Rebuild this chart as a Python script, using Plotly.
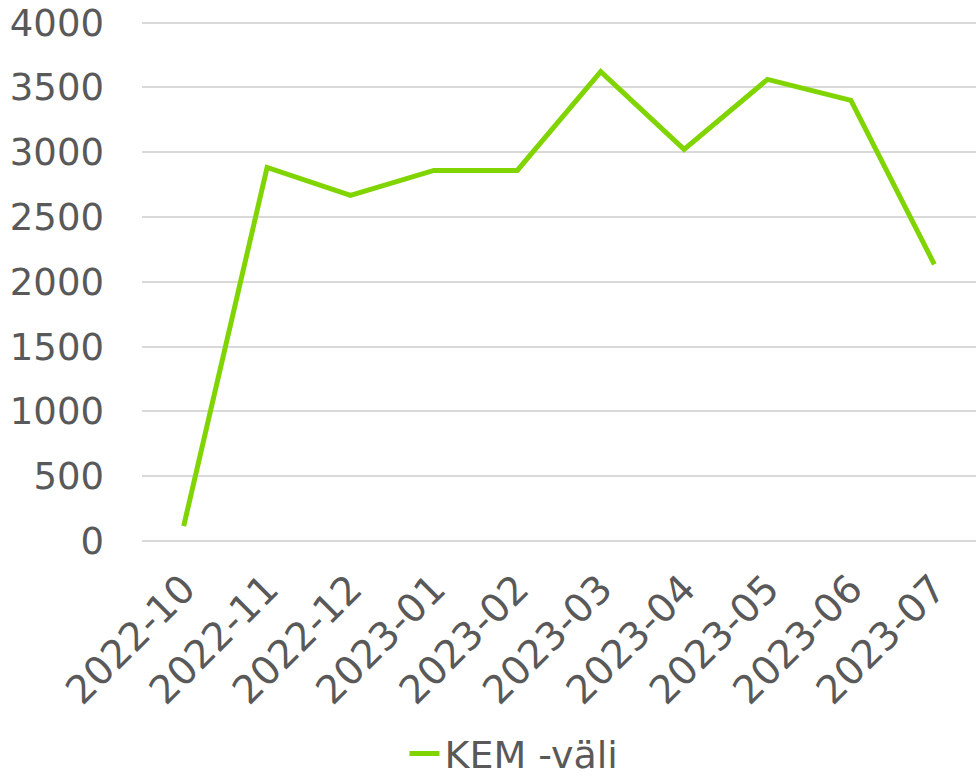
import plotly.graph_objects as go

months = ["2022-10", "2022-11", "2022-12", "2023-01", "2023-02",
          "2023-03", "2023-04", "2023-05", "2023-06", "2023-07"]
kem_vali = [115, 2882, 2667, 2859, 2859, 3622, 3021, 3561, 3399, 2135]
y_ticks = [0, 500, 1000, 1500, 2000, 2500, 3000, 3500, 4000]

GREEN = "#80D400"
GREY = "#595959"
FONT = "DejaVu Sans"
SIZE = 37

fig = go.Figure()
fig.add_trace(go.Scatter(
    x=months, y=kem_vali, mode="lines", name="KEM -väli",
    line=dict(color=GREEN, width=5),
))

fig.update_layout(
    width=976, height=777,
    margin=dict(l=142, r=0, t=21, b=236),
    paper_bgcolor="white", plot_bgcolor="white",
    font=dict(family=FONT, color=GREY, size=SIZE),
    showlegend=True,
    legend=dict(
        orientation="h", x=0.446, xanchor="center",
        yref="container", y=0.03, yanchor="middle",
        font=dict(family=FONT, color=GREY, size=38),
    ),
)
fig.update_xaxes(
    type="category", range=[-0.5, len(months) - 0.5],
    tickangle=-45, showgrid=False, showline=False, ticks="",
    automargin=False, ticklabelstandoff=16,
    tickfont=dict(family=FONT, color=GREY, size=39),
)
# top of range a bit above 4000 so plotly still draws the 4000 gridline
fig.update_yaxes(
    range=[0, 4012], tickvals=y_ticks, showgrid=True,
    gridcolor="#D9D9D9", gridwidth=1.5, zeroline=True,
    zerolinecolor="#D9D9D9", zerolinewidth=1.5, showline=False,
    ticks="", ticklabelstandoff=37, automargin=False,
    ticklabeloverflow="allow",
    tickfont=dict(family=FONT, color=GREY, size=SIZE),
)

# drop the default 8px body margin so the figure fills the window
fig.write_html("out.html", config={"displayModeBar": False},
               post_script="document.body.style.margin = '0';")
